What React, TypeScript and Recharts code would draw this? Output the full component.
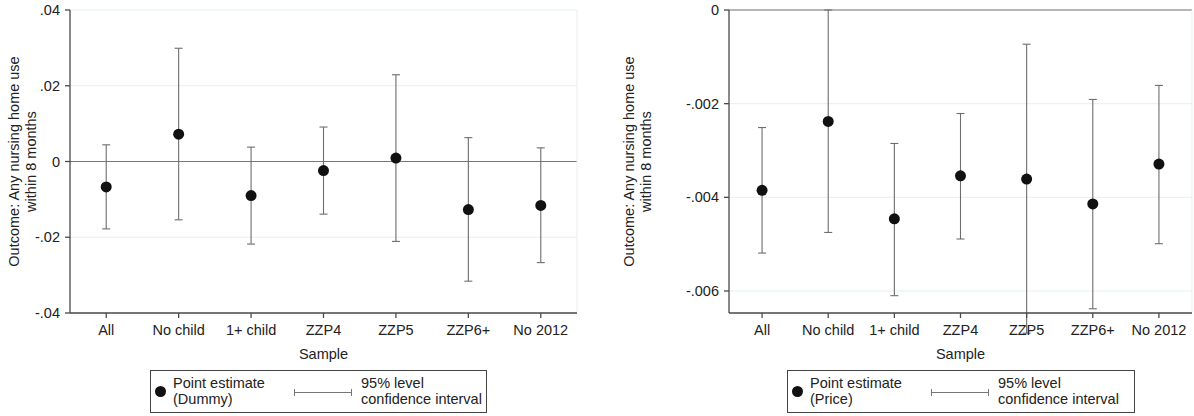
import { ScatterChart, Scatter, XAxis, YAxis, CartesianGrid, ErrorBar, ReferenceLine } from 'recharts';

// samples on the x axis
const samples = ['All', 'No child', '1+ child', 'ZZP4', 'ZZP5', 'ZZP6+', 'No 2012'];
const sampleTicks = [1, 2, 3, 4, 5, 6, 7];

// left panel: dummy treatment
const dummyEst = [-0.0067, 0.0072, -0.009, -0.0024, 0.0009, -0.0127, -0.0116];
const dummyLow = [-0.0178, -0.0154, -0.0218, -0.0139, -0.0211, -0.0316, -0.0267];
const dummyHigh = [0.0044, 0.0299, 0.0038, 0.0091, 0.0229, 0.0063, 0.0036];
const dummyTicks = [-0.04, -0.02, 0, 0.02, 0.04];

// right panel: price treatment
const priceEst = [-0.00385, -0.00238, -0.00446, -0.00354, -0.00361, -0.00414, -0.00329];
const priceLow = [-0.00519, -0.00475, -0.0061, -0.00489, -0.0069, -0.00638, -0.00499];
const priceHigh = [-0.00251, 0, -0.00285, -0.00221, -0.00073, -0.00191, -0.00161];
const priceTicks = [-0.006, -0.004, -0.002, 0];

const FONT = '"Liberation Sans", Arial, sans-serif';
const AXIS = '#4a4a4a';
const GRID = '#e6eff1';
const TEXT = '#222';

const fmt = (decimals: number) => (v: number) =>
  v === 0 ? '0' : v.toFixed(decimals).replace('0.', '.');

interface PanelProps {
  left: number;
  width: number;
  yAxisWidth: number;
  domain: [number, number];
  ticks: number[];
  decimals: number;
  est: number[];
  low: number[];
  high: number[];
  labelX: number;
  legendName: string;
  legendLeft: number;
  legendWidth: number;
}

const Panel = (p: PanelProps) => {
  const data = samples.map((s, i) => ({
    x: i + 1,
    y: p.est[i],
    err: [p.est[i] - p.low[i], p.high[i] - p.est[i]],
    name: s,
  }));

  const plotTop = 10;
  const plotBottom = 313;
  const mid = (plotTop + plotBottom) / 2;

  return (
    <div style={{ position: 'absolute', left: p.left, top: 0, width: p.width, height: 416 }}>
      <ScatterChart
        width={p.width}
        height={363}
        margin={{ top: plotTop, right: 2, left: 0, bottom: 0 }}
        style={{ fontFamily: FONT }}
      >
        <CartesianGrid vertical={false} stroke={GRID} strokeWidth={1} />
        <XAxis
          type="number"
          dataKey="x"
          domain={[0.5, 7.5]}
          ticks={sampleTicks}
          interval={0}
          tickFormatter={(v: number) => samples[v - 1]}
          height={50}
          tickSize={5}
          tickMargin={7}
          stroke={AXIS}
          strokeWidth={1.3}
          tick={{ fontSize: 14.5, fill: TEXT }}
          label={{ value: 'Sample', position: 'insideBottom', offset: 4, fontSize: 14.5, fill: TEXT }}
        />
        <YAxis
          type="number"
          dataKey="y"
          domain={p.domain}
          ticks={p.ticks}
          allowDataOverflow
          interval={0}
          width={p.yAxisWidth}
          tickSize={5}
          tickMargin={5}
          stroke={AXIS}
          strokeWidth={1.3}
          tick={{ fontSize: 14.5, fill: TEXT }}
          tickFormatter={fmt(p.decimals)}
          label={{
            content: () => (
              <text
                transform={`rotate(-90 ${p.labelX} ${mid})`}
                fontSize={14.5}
                fill={TEXT}
                textAnchor="middle"
                fontFamily={FONT}
              >
                <tspan x={p.labelX} y={mid}>Outcome: Any nursing home use</tspan>
                <tspan x={p.labelX} y={mid + 17}>within 8 months</tspan>
              </text>
            ),
          }}
        />
        <ReferenceLine y={0} stroke="#777" strokeWidth={1.2} ifOverflow="extendDomain" />
        <ReferenceLine x={7.5} stroke={GRID} strokeWidth={1} />
        <Scatter
          data={data}
          isAnimationActive={false}
          shape={(s: any) => <circle cx={s.cx} cy={s.cy} r={5.5} fill="#111" />}
        >
          <ErrorBar dataKey="err" direction="y" width={4} stroke="#6e6e6e" strokeWidth={1.1} isAnimationActive={false} />
        </Scatter>
      </ScatterChart>

      {/* legend box */}
      <div
        style={{
          position: 'absolute',
          left: p.legendLeft - p.left,
          top: 370,
          width: p.legendWidth,
          height: 43,
          border: '1px solid #444',
          boxSizing: 'border-box',
          fontFamily: FONT,
          fontSize: 14.5,
          lineHeight: '16px',
          color: TEXT,
        }}
      >
        <div style={{ position: 'absolute', left: 4, top: 15, width: 11, height: 11, borderRadius: '50%', background: '#111' }} />
        <div style={{ position: 'absolute', left: 22, top: 4 }}>
          Point estimate
          <br />({p.legendName})
        </div>
        <div style={{ position: 'absolute', left: 143, top: 21, width: 58, height: 1, background: '#777' }} />
        <div style={{ position: 'absolute', left: 143, top: 18, width: 1, height: 7, background: '#777' }} />
        <div style={{ position: 'absolute', left: 200, top: 18, width: 1, height: 7, background: '#777' }} />
        <div style={{ position: 'absolute', left: 210, top: 4 }}>
          95% level
          <br />confidence interval
        </div>
      </div>
    </div>
  );
};

export default function App() {
  return (
    <div style={{ position: 'absolute', left: 0, top: 0, width: 1194, height: 416, background: '#fff' }}>
      <Panel
        left={0}
        width={579}
        yAxisWidth={70}
        domain={[-0.04, 0.04]}
        ticks={dummyTicks}
        decimals={2}
        est={dummyEst}
        low={dummyLow}
        high={dummyHigh}
        labelX={19}
        legendName="Dummy"
        legendLeft={150}
        legendWidth={337}
      />
      <Panel
        left={600}
        width={594}
        yAxisWidth={129}
        domain={[-0.00647, 0]}
        ticks={priceTicks}
        decimals={3}
        est={priceEst}
        low={priceLow}
        high={priceHigh}
        labelX={34}
        legendName="Price"
        legendLeft={787}
        legendWidth={348}
      />
    </div>
  );
}
